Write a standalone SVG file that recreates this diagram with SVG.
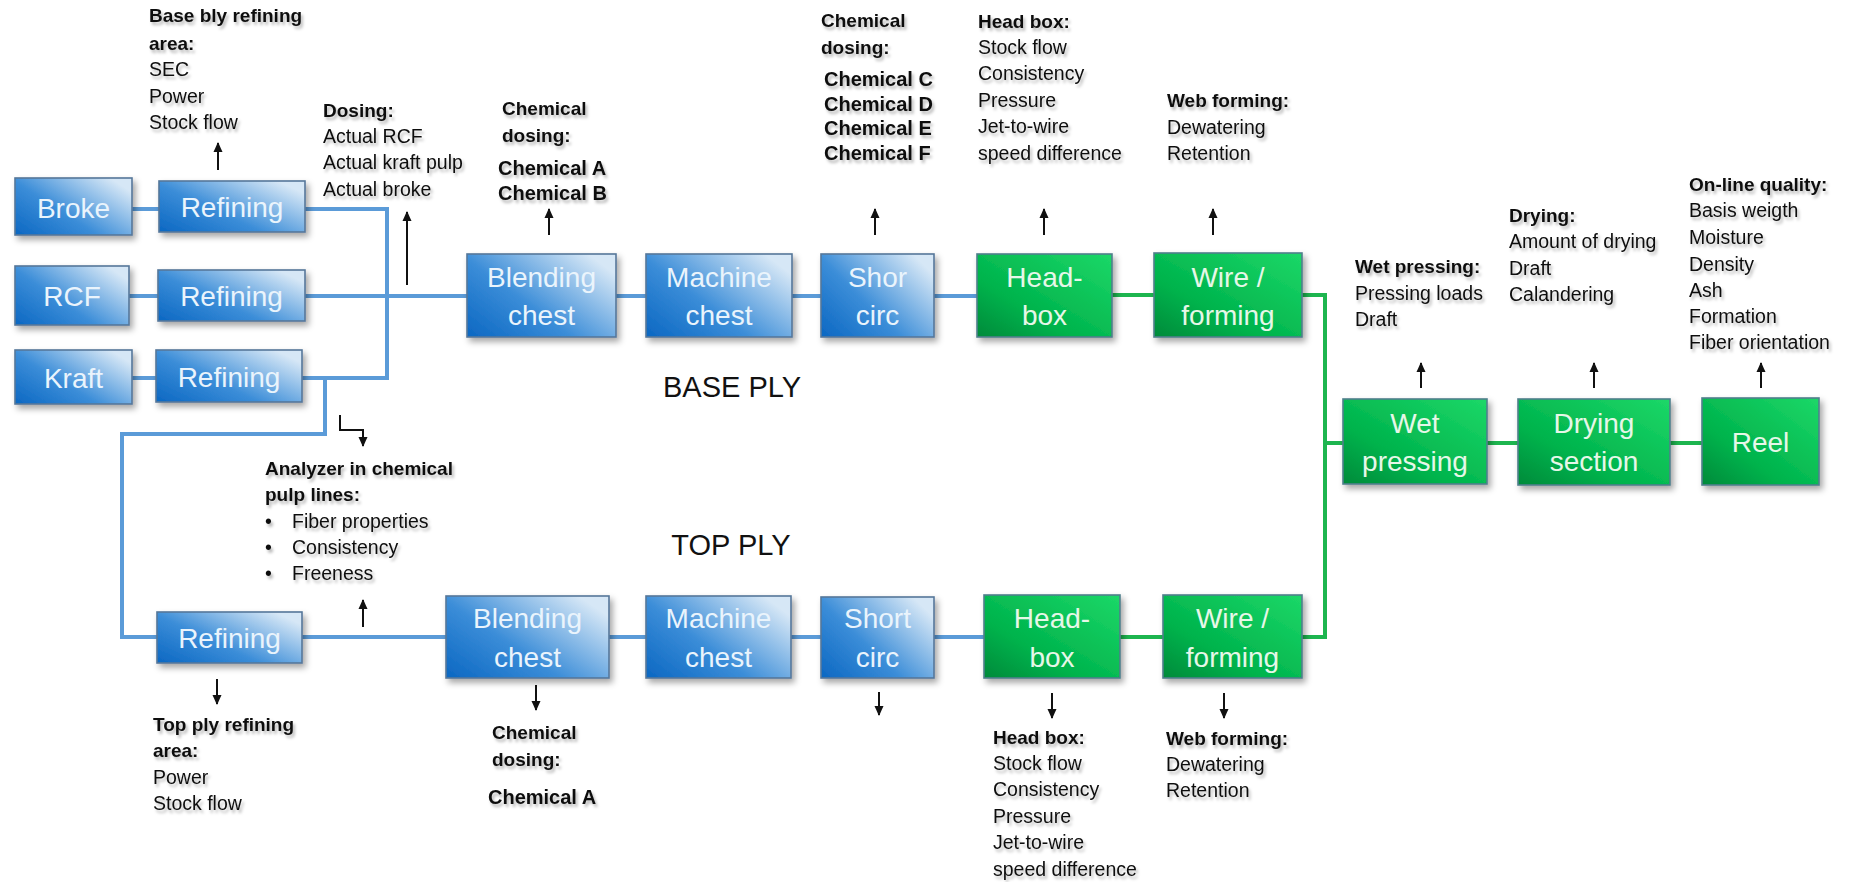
<svg xmlns="http://www.w3.org/2000/svg" width="1854" height="882" viewBox="0 0 1854 882">
  <defs>
    <linearGradient id="gBlue" x1="0" y1="1" x2="1" y2="0.25">
      <stop offset="0" stop-color="#0b67c2"/>
      <stop offset="0.45" stop-color="#3b8dd8"/>
      <stop offset="1" stop-color="#d6e7f6"/>
    </linearGradient>
    <linearGradient id="gGreen" x1="0" y1="1" x2="1" y2="0">
      <stop offset="0" stop-color="#058a3a"/>
      <stop offset="0.35" stop-color="#00b34c"/>
      <stop offset="1" stop-color="#1cd868"/>
    </linearGradient>
    <filter id="boxShadow" x="-10%" y="-10%" width="130%" height="140%">
      <feDropShadow dx="3" dy="4" stdDeviation="3" flood-color="#000" flood-opacity="0.35"/>
    </filter>
    <filter id="textShadow" x="-5%" y="-5%" width="115%" height="125%">
      <feDropShadow dx="2" dy="3" stdDeviation="1.6" flood-color="#000" flood-opacity="0.28"/>
    </filter>
    <marker id="arrow" viewBox="0 0 10 10" refX="9" refY="5" markerWidth="10" markerHeight="10" markerUnits="userSpaceOnUse" orient="auto">
      <path d="M0,0.5 L10,5 L0,9.5 Z" fill="#111"/>
    </marker>
  </defs>
  <style>
    .blue { fill: url(#gBlue); stroke: #55779a; stroke-width: 1.6; filter: url(#boxShadow); }
    .green { fill: url(#gGreen); stroke: #4f7f8c; stroke-width: 1.6; filter: url(#boxShadow); }
    .lbl { font-family: "Liberation Sans", Arial, sans-serif; font-size: 28px; fill: #eaf4fc; text-anchor: middle; }
    .lblG { fill: #e6f7e8; }
    .pipeB { fill: none; stroke: #5b9bd8; stroke-width: 4; }
    .pipeG { fill: none; stroke: #1db54f; stroke-width: 4; }
    .arr { fill: none; stroke: #111; stroke-width: 2; marker-end: url(#arrow); }
    .note { font-family: "Liberation Sans", Arial, sans-serif; font-size: 19.5px; fill: #111; filter: url(#textShadow); }
    .note .h { font-weight: bold; font-size: 19px; }
    .note .c { font-weight: bold; font-size: 20px; }
    .ply { font-family: "Liberation Sans", Arial, sans-serif; font-size: 29px; fill: #111; text-anchor: middle; }
  </style>
  <rect width="1854" height="882" fill="#fff"/>

  <!-- pipework between process stages -->
  <g id="connectors">
    <!-- base ply furnish lines -->
    <path class="pipeB" d="M132,209 H159"/>
    <path class="pipeB" d="M129,296 H158"/>
    <path class="pipeB" d="M132,378 H156"/>
    <path class="pipeB" d="M305,209 H387 V378 H302"/>
    <path class="pipeB" d="M305,296 H467"/>
    <path class="pipeB" d="M616,296 H646"/>
    <path class="pipeB" d="M792,296 H821"/>
    <path class="pipeB" d="M934,296 H977"/>
    <!-- kraft branch to top ply -->
    <path class="pipeB" d="M325,378 V434 H122 V637 H157"/>
    <path class="pipeB" d="M302,637 H446"/>
    <path class="pipeB" d="M609,637 H646"/>
    <path class="pipeB" d="M791,637 H821"/>
    <path class="pipeB" d="M934,637 H984"/>
    <!-- wet end and dry end -->
    <path class="pipeG" d="M1112,295 H1154"/>
    <path class="pipeG" d="M1120,637 H1163"/>
    <path class="pipeG" d="M1302,295 H1325 V637 H1302"/>
    <path class="pipeG" d="M1325,443 H1343"/>
    <path class="pipeG" d="M1487,443 H1518"/>
    <path class="pipeG" d="M1670,443 H1702"/>
    <!-- measurement arrows -->
    <path class="arr" d="M218,170 V143"/>
    <path class="arr" d="M407,285 V212"/>
    <path class="arr" d="M549,235 V209"/>
    <path class="arr" d="M875,235 V209"/>
    <path class="arr" d="M1044,235 V209"/>
    <path class="arr" d="M1213,235 V209"/>
    <path class="arr" d="M1421,388 V363"/>
    <path class="arr" d="M1594,388 V363"/>
    <path class="arr" d="M1761,388 V363"/>
    <path class="arr" d="M363,627 V600"/>
    <path class="arr" d="M340,415 V430 H363 V446"/>
    <path class="arr" d="M217,679 V704"/>
    <path class="arr" d="M536,685 V710"/>
    <path class="arr" d="M879,692 V715"/>
    <path class="arr" d="M1052,693 V718"/>
    <path class="arr" d="M1224,693 V718"/>
  </g>

  <!-- base ply stock preparation -->
  <g id="broke"><rect class="blue" x="15" y="178" width="117" height="57"/><text class="lbl" x="73.5" y="218" font-size="30">Broke</text></g>
  <g id="refining-broke"><rect class="blue" x="159" y="181" width="146" height="51"/><text class="lbl" x="232" y="217">Refining</text></g>
  <g id="rcf"><rect class="blue" x="15" y="266" width="114" height="59"/><text class="lbl" x="72" y="306" font-size="26">RCF</text></g>
  <g id="refining-rcf"><rect class="blue" x="158" y="270" width="147" height="51"/><text class="lbl" x="231.5" y="306">Refining</text></g>
  <g id="kraft"><rect class="blue" x="15" y="350" width="117" height="54"/><text class="lbl" x="73.5" y="388" font-size="30">Kraft</text></g>
  <g id="refining-kraft"><rect class="blue" x="156" y="350" width="146" height="52"/><text class="lbl" x="229" y="387">Refining</text></g>
  <g id="blending-base"><rect class="blue" x="467" y="254" width="149" height="83"/><text class="lbl" x="541.5" y="287">Blending</text><text class="lbl" x="541.5" y="325">chest</text></g>
  <g id="machine-base"><rect class="blue" x="646" y="254" width="146" height="83"/><text class="lbl" x="719" y="287">Machine</text><text class="lbl" x="719" y="325">chest</text></g>
  <g id="shortcirc-base"><rect class="blue" x="821" y="254" width="113" height="83"/><text class="lbl" x="877.5" y="287">Shor</text><text class="lbl" x="877.5" y="325">circ</text></g>
  <g id="headbox-base"><rect class="green" x="977" y="254" width="135" height="83"/><text class="lbl lblG" x="1044.5" y="287">Head-</text><text class="lbl lblG" x="1044.5" y="325">box</text></g>
  <g id="wire-base"><rect class="green" x="1154" y="253" width="148" height="84"/><text class="lbl lblG" x="1228" y="287">Wire /</text><text class="lbl lblG" x="1228" y="325">forming</text></g>

  <!-- top ply -->
  <g id="refining-top"><rect class="blue" x="157" y="612" width="145" height="51"/><text class="lbl" x="229.5" y="648">Refining</text></g>
  <g id="blending-top"><rect class="blue" x="446" y="596" width="163" height="82"/><text class="lbl" x="527.5" y="628">Blending</text><text class="lbl" x="527.5" y="667">chest</text></g>
  <g id="machine-top"><rect class="blue" x="646" y="596" width="145" height="82"/><text class="lbl" x="718.5" y="628">Machine</text><text class="lbl" x="718.5" y="667">chest</text></g>
  <g id="shortcirc-top"><rect class="blue" x="821" y="597" width="113" height="81"/><text class="lbl" x="877.5" y="628">Short</text><text class="lbl" x="877.5" y="667">circ</text></g>
  <g id="headbox-top"><rect class="green" x="984" y="595" width="136" height="83"/><text class="lbl lblG" x="1052" y="628">Head-</text><text class="lbl lblG" x="1052" y="667">box</text></g>
  <g id="wire-top"><rect class="green" x="1163" y="595" width="139" height="83"/><text class="lbl lblG" x="1232.5" y="628">Wire /</text><text class="lbl lblG" x="1232.5" y="667">forming</text></g>

  <!-- press, dryer, reel -->
  <g id="wet-pressing"><rect class="green" x="1343" y="399" width="144" height="85"/><text class="lbl lblG" x="1415" y="433">Wet</text><text class="lbl lblG" x="1415" y="471">pressing</text></g>
  <g id="drying-section"><rect class="green" x="1518" y="399" width="152" height="86"/><text class="lbl lblG" x="1594" y="433">Drying</text><text class="lbl lblG" x="1594" y="471">section</text></g>
  <g id="reel"><rect class="green" x="1702" y="398" width="117" height="87"/><text class="lbl lblG" x="1760.5" y="452">Reel</text></g>

  <!-- ply titles -->
  <text class="ply" x="732" y="397">BASE PLY</text>
  <text class="ply" x="731" y="555">TOP PLY</text>

  <!-- measurement notes -->
  <g id="note-base-refining" class="note">
    <text x="149" y="22" class="h">Base bly refining</text>
    <text x="149" y="50" class="h">area:</text>
    <text x="149" y="76">SEC</text>
    <text x="149" y="103">Power</text>
    <text x="149" y="129">Stock flow</text>
  </g>
  <g id="note-dosing" class="note">
    <text x="323" y="117" class="h">Dosing:</text>
    <text x="323" y="143">Actual RCF</text>
    <text x="323" y="169">Actual kraft pulp</text>
    <text x="323" y="196">Actual broke</text>
  </g>
  <g id="note-chem-base1" class="note">
    <text x="502" y="115" class="h">Chemical</text>
    <text x="502" y="142" class="h">dosing:</text>
    <text x="498" y="175" class="c">Chemical A</text>
    <text x="498" y="200" class="c">Chemical B</text>
  </g>
  <g id="note-chem-base2" class="note">
    <text x="821" y="27" class="h">Chemical</text>
    <text x="821" y="54" class="h">dosing:</text>
    <text x="824" y="86" class="c">Chemical C</text>
    <text x="824" y="111" class="c">Chemical D</text>
    <text x="824" y="135" class="c">Chemical E</text>
    <text x="824" y="160" class="c">Chemical F</text>
  </g>
  <g id="note-headbox-base" class="note">
    <text x="978" y="28" class="h">Head box:</text>
    <text x="978" y="54">Stock flow</text>
    <text x="978" y="80">Consistency</text>
    <text x="978" y="107">Pressure</text>
    <text x="978" y="133">Jet-to-wire</text>
    <text x="978" y="160">speed difference</text>
  </g>
  <g id="note-web-base" class="note">
    <text x="1167" y="107" class="h">Web forming:</text>
    <text x="1167" y="134">Dewatering</text>
    <text x="1167" y="160">Retention</text>
  </g>
  <g id="note-wet" class="note">
    <text x="1355" y="273" class="h">Wet pressing:</text>
    <text x="1355" y="300">Pressing loads</text>
    <text x="1355" y="326">Draft</text>
  </g>
  <g id="note-drying" class="note">
    <text x="1509" y="222" class="h">Drying:</text>
    <text x="1509" y="248">Amount of drying</text>
    <text x="1509" y="275">Draft</text>
    <text x="1509" y="301">Calandering</text>
  </g>
  <g id="note-quality" class="note">
    <text x="1689" y="191" class="h">On-line quality:</text>
    <text x="1689" y="217">Basis weigth</text>
    <text x="1689" y="244">Moisture</text>
    <text x="1689" y="271">Density</text>
    <text x="1689" y="297">Ash</text>
    <text x="1689" y="323">Formation</text>
    <text x="1689" y="349">Fiber orientation</text>
  </g>
  <g id="note-analyzer" class="note">
    <text x="265" y="475" class="h">Analyzer in chemical</text>
    <text x="265" y="501" class="h">pulp lines:</text>
    <text x="265" y="528">•</text><text x="292" y="528">Fiber properties</text>
    <text x="265" y="554">•</text><text x="292" y="554">Consistency</text>
    <text x="265" y="580">•</text><text x="292" y="580">Freeness</text>
  </g>
  <g id="note-top-refining" class="note">
    <text x="153" y="731" class="h">Top ply refining</text>
    <text x="153" y="757" class="h">area:</text>
    <text x="153" y="784">Power</text>
    <text x="153" y="810">Stock flow</text>
  </g>
  <g id="note-chem-top" class="note">
    <text x="492" y="739" class="h">Chemical</text>
    <text x="492" y="766" class="h">dosing:</text>
    <text x="488" y="804" class="c">Chemical A</text>
  </g>
  <g id="note-headbox-top" class="note">
    <text x="993" y="744" class="h">Head box:</text>
    <text x="993" y="770">Stock flow</text>
    <text x="993" y="796">Consistency</text>
    <text x="993" y="823">Pressure</text>
    <text x="993" y="849">Jet-to-wire</text>
    <text x="993" y="876">speed difference</text>
  </g>
  <g id="note-web-top" class="note">
    <text x="1166" y="745" class="h">Web forming:</text>
    <text x="1166" y="771">Dewatering</text>
    <text x="1166" y="797">Retention</text>
  </g>
</svg>
